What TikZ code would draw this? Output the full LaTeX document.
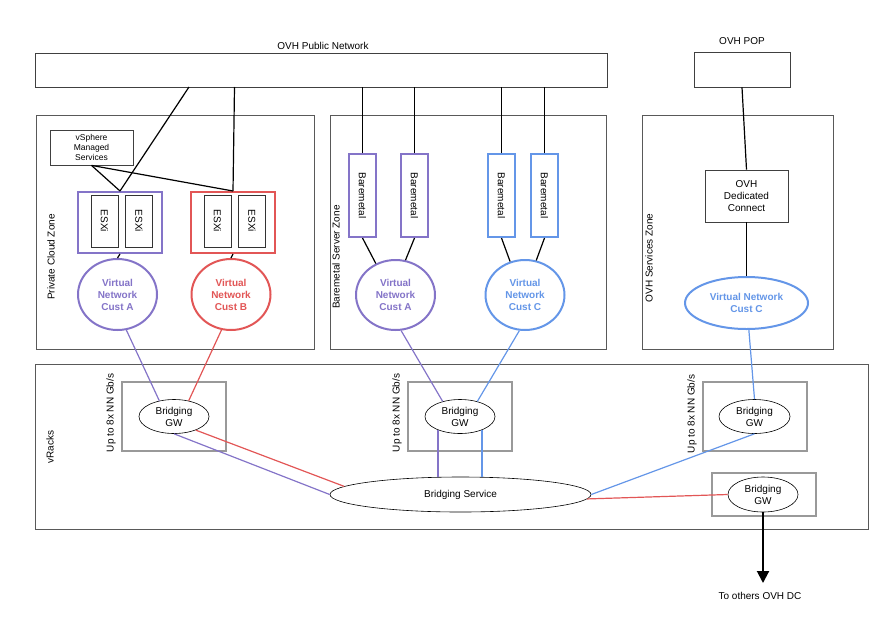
\documentclass[tikz,border=0pt]{standalone}
\usepackage{fontspec}
\setmainfont{Liberation Sans}
\usetikzlibrary{shapes.geometric,arrows.meta}
\definecolor{custa}{RGB}{132,116,200}
\definecolor{custb}{RGB}{226,86,86}
\definecolor{custc}{RGB}{100,150,232}

\begin{document}
\begin{tikzpicture}[x=1pt,y=-1pt,
  every node/.style={font=\fontsize{10}{12}\selectfont, inner sep=0pt},
  zone/.style={draw=black!65, line width=0.8pt},
  box/.style={draw=black!75, line width=0.8pt, fill=white, align=center},
  gwbox/.style={draw=black!40, line width=1.2pt},
  srv/.style={draw, line width=2pt, fill=white},
  esx/.style={draw=black!80, line width=0.8pt, fill=white, minimum width=27, minimum height=52},
  bm/.style={draw, line width=2pt, fill=white, minimum width=27, minimum height=83},
  vnet/.style={ellipse, draw, line width=2pt, fill=white, align=center,
    font=\fontsize{10}{12}\selectfont\bfseries},
  bridge/.style={ellipse, draw, line width=0.6pt, fill=white, align=center},
  link/.style={line width=1.2pt}]
\useasboundingbox (0,0) rectangle (885,627);

%% zones
\draw[zone] (36,115) rectangle (314,349);
\draw[zone] (330,115) rectangle (606,349);
\draw[zone] (642,115) rectangle (833,349);
\draw[zone] (35,364) rectangle (868,529);
\node[rotate=90] (lblpcz) at (51,257) {Private Cloud Zone};
\node[rotate=90] (lblbmz) at (336,257) {Baremetal Server Zone};
\node[rotate=90] (lblsvz) at (649,258) {OVH Services Zone};
\node[rotate=90] (lblvr) at (50,447) {vRacks};

% public network and pop
\node (lblpub) at (323,46) {OVH Public Network};
\node[box, minimum width=572, minimum height=34] (pub) at (321,70) {};
\node (lblpop) at (742,41) {OVH POP};
\node[box, minimum width=96, minimum height=35] (pop) at (742,69.5) {};
\coordinate (pubA) at (189,87);
\coordinate (pubB) at (234.5,87);

%% private cloud zone
\node[box, minimum width=83, minimum height=35, font=\fontsize{8.5}{10}\selectfont]
  (vs) at (91.5,147.5) {vSphere\\Managed\\Services};
\node[srv, draw=custa, minimum width=84, minimum height=61] (esxA) at (120,222.5) {};
\node[esx] (esxA1) at (104.5,221) {\rotatebox{-90}{ESXi}};
\node[esx] (esxA2) at (139,221) {\rotatebox{-90}{ESXi}};
\node[srv, draw=custb, minimum width=84, minimum height=61] (esxB) at (233,222.5) {};
\node[esx] (esxB1) at (217.5,221) {\rotatebox{-90}{ESXi}};
\node[esx] (esxB2) at (252,221) {\rotatebox{-90}{ESXi}};
\node[vnet, draw=custa, text=custa, minimum width=79, minimum height=71] (cnA) at (117.5,294.5) {Virtual\\Network\\Cust A};
\node[vnet, draw=custb, text=custb, minimum width=79, minimum height=71] (cnB) at (231,294.5) {Virtual\\Network\\Cust B};

\draw[link] (pubA) -- (esxA.north);
\draw[link] (pubB) -- (esxB.north);
\draw[link] (vs.south) -- (esxA.north);
\draw[link] (vs.south) -- (esxB.north);
\draw[link] (esxA.south) -- (cnA.north);
\draw[link] (esxB.south) -- (cnB.north);

%% baremetal server zone
\node[bm, draw=custa] (bm1) at (362.5,195.5) {\rotatebox{-90}{Baremetal}};
\node[bm, draw=custa] (bm2) at (414.5,195.5) {\rotatebox{-90}{Baremetal}};
\node[bm, draw=custc] (bm3) at (501.5,195.5) {\rotatebox{-90}{Baremetal}};
\node[bm, draw=custc] (bm4) at (544.5,195.5) {\rotatebox{-90}{Baremetal}};
\node[vnet, draw=custa, text=custa, minimum width=79, minimum height=70] (bmA) at (395.5,295) {Virtual\\Network\\Cust A};
\node[vnet, draw=custc, text=custc, minimum width=79, minimum height=70] (bmC) at (525,295) {Virtual\\Network\\Cust C};

\foreach \b in {bm1,bm2,bm3,bm4}
  \draw[link] (\b.north) -- (\b.north |- pub.south);
\draw[link] (bm1.south) -- (bmA.122);
\draw[link] (bm2.south) -- (bmA.74);
\draw[link] (bm3.south) -- (bmC.114);
\draw[link] (bm4.south) -- (bmC.72);

%% ovh services zone
\node[box, minimum width=83, minimum height=52] (dc) at (746.5,196) {OVH\\Dedicated\\Connect};
\node[vnet, draw=custc, text=custc, minimum width=123, minimum height=52] (cnC) at (746.5,303) {Virtual Network\\Cust C};
\draw[link] (pop.south) -- (dc.north);
\draw[link] (dc.south) -- (cnC.north);

%% vracks
\draw[gwbox] (122,382) rectangle (226,451);
\draw[gwbox] (408,382) rectangle (512,451);
\draw[gwbox] (703,382) rectangle (807,451);
\draw[gwbox] (712,473) rectangle (816,516);
\node[rotate=90] (lblgw1) at (111,413) {Up to 8x NN Gb/s};
\node[rotate=90] (lblgw2) at (397,413) {Up to 8x NN Gb/s};
\node[rotate=90] (lblgw3) at (692,414) {Up to 8x NN Gb/s};
\node[bridge, minimum width=70, minimum height=34] (gw1) at (174,416.5) {Bridging\\GW};
\node[bridge, minimum width=70, minimum height=34] (gw2) at (460,416.5) {Bridging\\GW};
\node[bridge, minimum width=71, minimum height=34] (gw3) at (754.5,416.5) {Bridging\\GW};
\node[bridge, minimum width=70, minimum height=35] (gw4) at (763,494.5) {Bridging\\GW};
\node[bridge, minimum width=261, minimum height=35] (bs) at (460.5,494.5) {Bridging Service};

% customer links
\draw[link, custa] (cnA.-76) -- (gw1.133);
\draw[link, custb] (cnB.-105) -- (gw1.47);
\draw[link, custa] (gw1.south) -- (bs.west);
\draw[link, custb] (gw1.-32) -- (bs.176.7);
\draw[link, custa] (bmA.-81) -- (gw2.139);
\draw[link, custc] (bmC.-99) -- (gw2.41);
\draw[link, custa, line width=1.7pt] (gw2.211) -- (gw2.211 |- bs.north);
\draw[link, custc, line width=1.7pt] (gw2.-32) -- (gw2.-32 |- bs.north);
\draw[link, custc] (cnC.-85) -- (gw3.north);
\draw[link, custc] (gw3.south) -- (bs.east);
\draw[link, custb] (bs.-2.8) -- (gw4.west);

% to other datacenters
\coordinate (dcout) at (763,583);
\draw[line width=2pt, -{Triangle[width=12pt,length=12pt]}] (gw4.south) -- (dcout);
\node (lbldc) at (760,596) {To others OVH DC};

\end{tikzpicture}
\end{document}
